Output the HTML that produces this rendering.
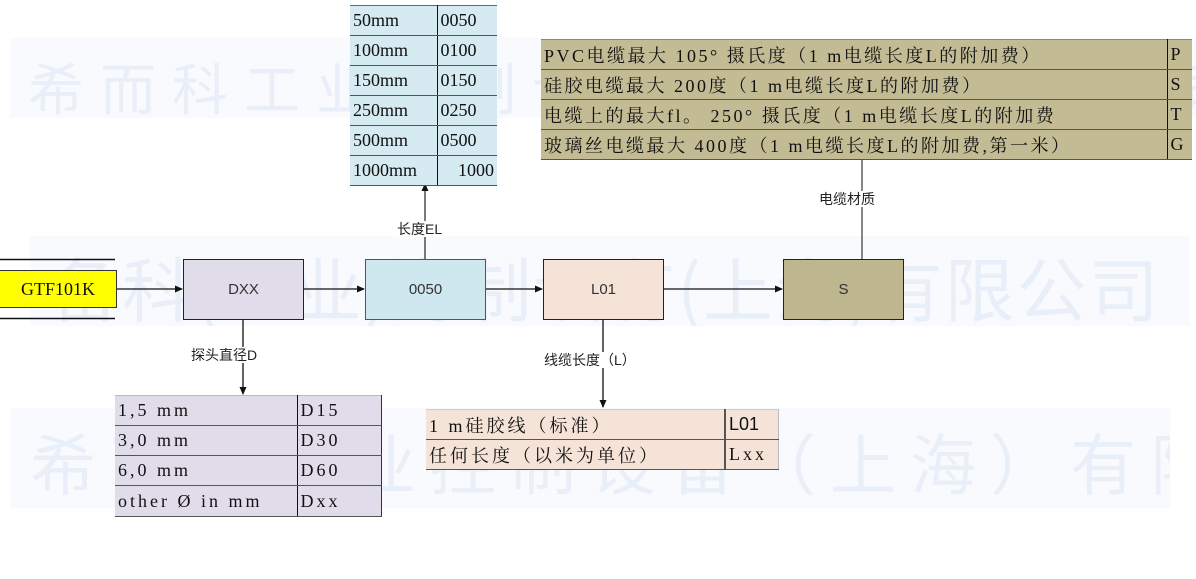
<!DOCTYPE html>
<html><head><meta charset="utf-8"><style>
*{margin:0;padding:0;box-sizing:border-box}
body{width:1196px;height:579px;background:#fff;position:relative;overflow:hidden;font-family:"Liberation Sans","Noto Sans CJK SC",sans-serif}
.a{position:absolute}
.band{position:absolute;background:#f8fafd;overflow:hidden}
.wm{position:absolute;color:#e9eff9;font-family:"Noto Sans CJK SC",sans-serif;white-space:nowrap}
.box{position:absolute;border:1.5px solid #222;display:flex;align-items:center;justify-content:center;font-size:15px;color:#333;width:121px;height:61px;top:259px}
.serif{font-family:"Liberation Serif","Noto Serif CJK SC","Noto Sans CJK SC",serif;color:#111}
table{border-collapse:collapse;position:absolute}
td{padding:0 3px;white-space:nowrap;font-family:"Liberation Serif","Noto Serif CJK SC",serif;color:#111;border-bottom:1.5px solid #555;font-size:18px}
.sp td{letter-spacing:3px}
.lbl{position:absolute;font-size:14px;color:#222;background:#fff;white-space:nowrap;line-height:16px}
</style></head><body>
<div class="band" style="left:10px;top:38px;width:1186px;height:80px"><div class="wm" style="left:18px;top:8px;font-size:56px;letter-spacing:16px">希而科工业控制设备（上海）有限公司</div></div>
<div class="band" style="left:30px;top:236px;width:1160px;height:90px"><div class="wm" style="left:20px;top:0px;font-size:70px;letter-spacing:2px">备科(工业)海制设有(上海)有限公司</div></div>
<div class="band" style="left:10px;top:408px;width:1160px;height:100px"><div class="wm" style="left:20px;top:5px;font-size:66px;letter-spacing:14px">希而科工业控制设备（上海）有限公司</div></div>

<svg class="a" style="left:0;top:0" width="1196" height="579">
<defs><marker id="ar" markerWidth="8" markerHeight="8" refX="7" refY="4" orient="auto" markerUnits="userSpaceOnUse"><path d="M0,0.5 L8,4 L0,7.5 Z" fill="#111"/></marker></defs>
<line x1="0" y1="259.5" x2="115" y2="259.5" stroke="#111" stroke-width="1.5"/>
<line x1="0" y1="318.5" x2="115" y2="318.5" stroke="#111" stroke-width="1.5"/>
<line x1="117" y1="289" x2="182" y2="289" stroke="#111" stroke-width="1.3" marker-end="url(#ar)"/>
<line x1="304" y1="289" x2="364" y2="289" stroke="#111" stroke-width="1.3" marker-end="url(#ar)"/>
<line x1="486" y1="289" x2="542" y2="289" stroke="#111" stroke-width="1.3" marker-end="url(#ar)"/>
<line x1="664" y1="289" x2="782" y2="289" stroke="#111" stroke-width="1.3" marker-end="url(#ar)"/>
<line x1="425" y1="259" x2="425" y2="184" stroke="#333" stroke-width="1.3" marker-end="url(#ar)"/>
<line x1="862" y1="259" x2="862" y2="159" stroke="#444" stroke-width="1.3"/>
<line x1="243" y1="320" x2="243" y2="394" stroke="#111" stroke-width="1.3" marker-end="url(#ar)"/>
<line x1="603" y1="320" x2="603" y2="407" stroke="#111" stroke-width="1.3" marker-end="url(#ar)"/>
</svg>

<div class="a serif" style="left:0;top:270px;width:117px;height:38px;background:#ffff00;border:1px solid #333;border-left:none;display:flex;align-items:center;justify-content:center;font-size:18px">GTF101K</div>
<div class="box" style="left:183px;background:#e0dcea">DXX</div>
<div class="box" style="left:365px;background:#cfe7ef;border-color:#555">0050</div>
<div class="box" style="left:543px;background:#f6e3d8">L01</div>
<div class="box" style="left:783px;background:#bdb68e">S</div>

<div class="lbl" style="left:397px;top:221px">长度EL</div>
<div class="lbl" style="left:819px;top:191px">电缆材质</div>
<div class="lbl" style="left:191px;top:347px">探头直径D</div>
<div class="lbl" style="left:544px;top:352px">线缆长度（L）</div>

<table style="left:350px;top:5px;width:147px;background:#d6eaf1;border-top:1.5px solid #666">
<tr style="height:30px"><td style="border-right:1.5px solid #111;width:87px">50mm</td><td>0050</td></tr>
<tr style="height:30px"><td style="border-right:1.5px solid #111">100mm</td><td>0100</td></tr>
<tr style="height:30px"><td style="border-right:1.5px solid #111">150mm</td><td>0150</td></tr>
<tr style="height:30px"><td style="border-right:1.5px solid #111">250mm</td><td>0250</td></tr>
<tr style="height:30px"><td style="border-right:1.5px solid #111">500mm</td><td>0500</td></tr>
<tr style="height:30px"><td style="border-right:1.5px solid #111">1000mm</td><td style="text-align:right">1000</td></tr>
</table>

<table class="sp" style="left:541px;top:39px;width:651px;background:#c2bb94;border-top:1.5px solid #888">
<tr style="height:30px"><td style="border-right:1.5px solid #111;width:626px;letter-spacing:2.5px">PVC电缆最大 105° 摄氏度（1 m电缆长度L的附加费）</td><td>P</td></tr>
<tr style="height:30px"><td style="border-right:1.5px solid #111;letter-spacing:2.5px">硅胶电缆最大 200度（1 m电缆长度L的附加费）</td><td>S</td></tr>
<tr style="height:30px"><td style="border-right:1.5px solid #111;letter-spacing:2.5px">电缆上的最大fl。 250° 摄氏度（1 m电缆长度L的附加费</td><td>T</td></tr>
<tr style="height:30px"><td style="border-right:1.5px solid #111;letter-spacing:2.5px">玻璃丝电缆最大 400度（1 m电缆长度L的附加费,第一米）</td><td>G</td></tr>
</table>

<table class="sp" style="left:115px;top:395px;width:267px;background:#e0dcea;border-top:1.5px solid #bbb;border-right:1.5px solid #333">
<tr style="height:30px"><td style="border-right:1.5px solid #111;width:182px">1,5 mm</td><td>D15</td></tr>
<tr style="height:30px"><td style="border-right:1.5px solid #111">3,0 mm</td><td>D30</td></tr>
<tr style="height:30px"><td style="border-right:1.5px solid #111">6,0 mm</td><td>D60</td></tr>
<tr style="height:31px"><td style="border-right:1.5px solid #111">other Ø in mm</td><td>Dxx</td></tr>
</table>

<table class="sp" style="left:426px;top:409px;width:353px;background:#f6e3d8;border-top:1.5px solid #ccc;border-right:1.5px solid #bbb">
<tr style="height:30px"><td style="border-right:2px solid #555;width:299px">1 m硅胶线（标准）</td><td style="font-family:'Liberation Sans',sans-serif;letter-spacing:0">L01</td></tr>
<tr style="height:30px"><td style="border-right:2px solid #555">任何长度（以米为单位）</td><td>Lxx</td></tr>
</table>
</body></html>
